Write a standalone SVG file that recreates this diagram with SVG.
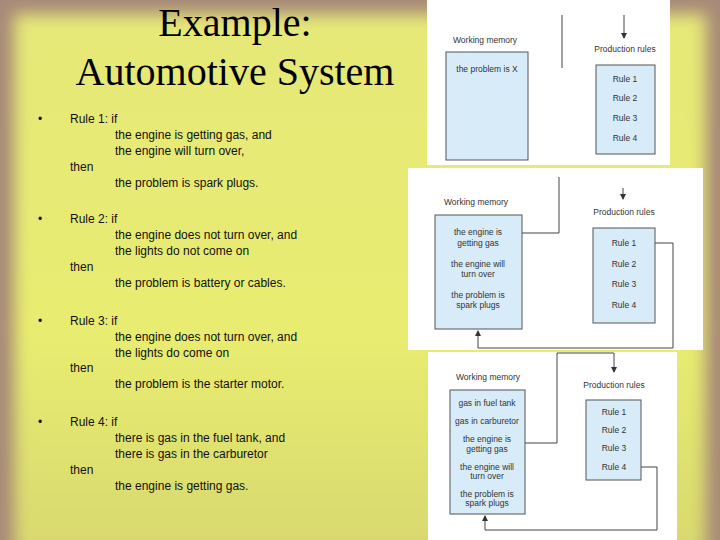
<svg xmlns="http://www.w3.org/2000/svg" width="720" height="540" viewBox="0 0 720 540">
<defs>
<filter id="blur" x="-10%" y="-10%" width="120%" height="120%"><feGaussianBlur stdDeviation="8"/></filter>
<linearGradient id="yel" x1="0" y1="0" x2="0" y2="1"><stop offset="0" stop-color="#e6e878"/><stop offset="0.6" stop-color="#e8ec70"/><stop offset="1" stop-color="#d8d870"/></linearGradient>
<marker id="ah" markerWidth="6" markerHeight="6" refX="5" refY="3" orient="auto"><path d="M0,0 L6,3 L0,6 Z" fill="#333"/></marker>
</defs>
<style>
.t{font-family:"Liberation Serif",serif;font-size:40px;fill:#000;text-anchor:middle}
.b{font-family:"Liberation Sans",Arial,sans-serif;font-size:12px;fill:#111}
.s{font-family:"Liberation Sans",Arial,sans-serif;font-size:8.5px;fill:#333}
.c{text-anchor:middle}
.box{fill:#d7ecf8;stroke:#555;stroke-width:1}
.ln{fill:none;stroke:#444;stroke-width:1}
.pn{fill:#fff}
</style>
<rect width="720" height="540" fill="#a88a78"/>
<rect x="14" y="14" width="692" height="540" fill="url(#yel)" filter="url(#blur)"/>
<g id="title"><text class="t" x="235" y="36">Example:</text><text class="t" x="235" y="85">Automotive System</text></g>
<g id="rules-text" class="b">
<text x="38" y="123">•</text><text x="70" y="123">Rule 1: if</text><text x="115" y="139">the engine is getting gas, and</text><text x="115" y="155">the engine will turn over,</text><text x="70" y="171">then</text><text x="115" y="187">the problem is spark plugs.</text>
<text x="38" y="223">•</text><text x="70" y="223">Rule 2: if</text><text x="115" y="239">the engine does not turn over, and</text><text x="115" y="255">the lights do not come on</text><text x="70" y="271">then</text><text x="115" y="287">the problem is battery or cables.</text>
<text x="38" y="325">•</text><text x="70" y="325">Rule 3: if</text><text x="115" y="341">the engine does not turn over, and</text><text x="115" y="357">the lights do come on</text><text x="70" y="372">then</text><text x="115" y="388">the problem is the starter motor.</text>
<text x="38" y="426">•</text><text x="70" y="426">Rule 4: if</text><text x="115" y="442">there is gas in the fuel tank, and</text><text x="115" y="458">there is gas in the carburetor</text><text x="70" y="474">then</text><text x="115" y="490">the engine is getting gas.</text>
</g>
<rect class="pn" x="427" y="0" width="243" height="165"/>
<rect class="pn" x="408" y="168" width="295" height="182"/>
<rect class="pn" x="428" y="352" width="249" height="188"/>
<g id="connectors">
<line class="ln" x1="562" y1="15" x2="562" y2="68" stroke="#bbb"/>
<line class="ln" x1="624" y1="15" x2="624" y2="38" marker-end="url(#ah)"/>
<polyline class="ln" points="522,233 559,233 559,177"/>
<line class="ln" x1="623" y1="188" x2="623" y2="199" marker-end="url(#ah)"/>
<polyline class="ln" points="645,243 673,243 673,348 478,348 478,331" marker-end="url(#ah)"/>
<polyline class="ln" points="520,443 557,443 557,353 614,353 614,372" marker-end="url(#ah)"/>
<polyline class="ln" points="635,467 657,467 657,530 485,530 485,516" marker-end="url(#ah)"/>
</g>
<g id="wm1"><text class="s" x="453" y="43">Working memory</text><rect class="box" x="446" y="52" width="82" height="108"/><text class="s c" x="487" y="72">the problem is X</text></g>
<g id="pr1"><text class="s c" x="625" y="52">Production rules</text><rect class="box" x="596" y="65" width="59" height="89"/><text class="s c" x="625" y="82">Rule 1</text><text class="s c" x="625" y="101">Rule 2</text><text class="s c" x="625" y="121">Rule 3</text><text class="s c" x="625" y="141">Rule 4</text></g>
<g id="wm2"><text class="s" x="444" y="205">Working memory</text><rect class="box" x="435" y="215" width="87" height="114"/>
<text class="s c" x="478" y="235">the engine is</text><text class="s c" x="478" y="246">getting gas</text><text class="s c" x="478" y="267">the engine will</text><text class="s c" x="478" y="277">turn over</text><text class="s c" x="478" y="298">the problem is</text><text class="s c" x="478" y="308">spark plugs</text></g>
<g id="pr2"><text class="s c" x="624" y="215">Production rules</text><rect class="box" x="593" y="228" width="62" height="95"/><text class="s c" x="624" y="246">Rule 1</text><text class="s c" x="624" y="267">Rule 2</text><text class="s c" x="624" y="287">Rule 3</text><text class="s c" x="624" y="308">Rule 4</text></g>
<g id="wm3"><text class="s" x="456" y="380">Working memory</text><rect class="box" x="450" y="390" width="75" height="124"/>
<text class="s c" x="487" y="406">gas in fuel tank</text><text class="s c" x="487" y="424">gas in carburetor</text><text class="s c" x="487" y="442">the engine is</text><text class="s c" x="487" y="452">getting gas</text><text class="s c" x="487" y="470">the engine will</text><text class="s c" x="487" y="479">turn over</text><text class="s c" x="487" y="497">the problem is</text><text class="s c" x="487" y="506">spark plugs</text></g>
<g id="pr3"><text class="s c" x="614" y="388">Production rules</text><rect class="box" x="586" y="400" width="55" height="80" stroke="none"/><text class="s c" x="614" y="415">Rule 1</text><text class="s c" x="614" y="433">Rule 2</text><text class="s c" x="614" y="451">Rule 3</text><text class="s c" x="614" y="470">Rule 4</text></g>
</svg>
